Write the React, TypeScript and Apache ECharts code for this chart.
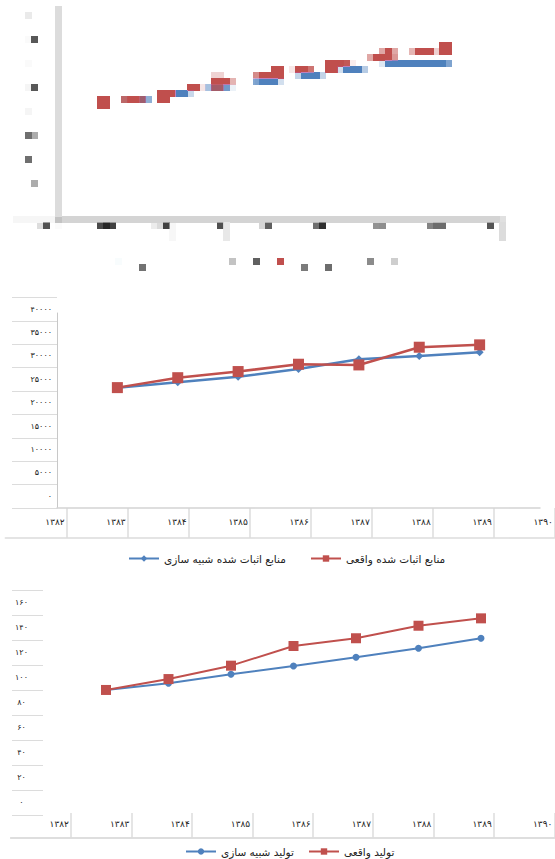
import React, { useEffect, useRef } from "react";
import * as echarts from "echarts";

// Persian calendar years on the horizontal axis
const years = ["۱۳۸۲", "۱۳۸۳", "۱۳۸۴", "۱۳۸۵", "۱۳۸۶", "۱۳۸۷", "۱۳۸۸", "۱۳۸۹", "۱۳۹۰"];

// Proven reserves, simulated vs. actual
const reserveTicks = ["۰", "۵۰۰۰", "۱۰۰۰۰", "۱۵۰۰۰", "۲۰۰۰۰", "۲۵۰۰۰", "۳۰۰۰۰", "۳۵۰۰۰", "۴۰۰۰۰"];
const reserveSimulated = [null, 23100, 24300, 25450, 27100, 29150, 29850, 30650, null];
const reserveActual = [null, 23150, 25250, 26550, 28100, 27950, 31700, 32200, null];

// Production, simulated vs. actual
const productionTicks = ["۰", "۲۰", "۴۰", "۶۰", "۸۰", "۱۰۰", "۱۲۰", "۱۴۰", "۱۶۰"];
const productionSimulated = [null, 89.5, 94.8, 102, 108.6, 115.6, 122.8, 130.8, null];
const productionActual = [null, 89.5, 98.2, 108.9, 124.6, 130.8, 140.8, 146.7, null];

// Overview panel (low resolution thumbnail)
const overviewSimulated = [null, 22100, 23600, 25500, 26950, 28650, 30300, 30750, null];
const overviewActual = [null, 22100, 23800, 26700, 28200, 30300, 32000, 33700, null];

const reserveSimName = "منابع اثبات شده شبیه سازی";
const reserveActName = "منابع اثبات شده واقعی";
const prodSimName = "تولید شبیه سازی";
const prodActName = "تولید واقعی";

const BLUE = "#4F81BD";
const RED = "#C0504D";
const RULE = "#dcdcdc";
const TEXT = "#222222";
const FONT = "DejaVu Sans";

type Box = { left: number; top: number; width: number; height: number };
type LineDef = { color: string; width: number };
type PanelSpec = {
  ticks: string[];
  max: number;
  simulated: (number | null)[];
  actual: (number | null)[];
  simName: string;
  actName: string;
  plot: Box;
  yCol: Box & { side: "left" | "right"; margin: number; align: "left" | "center" | "right"; fontSize: number };
  xRow: Box & { margin: number; fontSize: number; topLine: boolean };
  frame?: Box & { yLine?: LineDef; xLine?: LineDef };
  legendPos: [number, number][];
  legendFont: number;
  lineWidth: number;
  blueSymbol: string;
  blueSize: number;
  redSize: number;
};

type Mapper = { x: (v: number) => number; y: (v: number) => number; l: (v: number) => number };
type Acc = { grid: any[]; xAxis: any[]; yAxis: any[]; series: any[]; legend: any[] };

function buildPanel(spec: PanelSpec, m: Mapper, acc: Acc) {
  const box = (b: Box) => ({ left: m.x(b.left), top: m.y(b.top), width: m.l(b.width), height: m.l(b.height) });

  // data plot
  let gi = acc.grid.length;
  acc.grid.push(box(spec.plot));
  const xi = acc.xAxis.length;
  const yi = acc.yAxis.length;
  acc.xAxis.push({ gridIndex: gi, type: "category", data: years, boundaryGap: false, show: false });
  acc.yAxis.push({ gridIndex: gi, type: "value", min: 0, max: spec.max, show: false });
  acc.series.push(
    {
      type: "line",
      name: spec.simName,
      xAxisIndex: xi,
      yAxisIndex: yi,
      data: spec.simulated,
      symbol: spec.blueSymbol,
      symbolSize: m.l(spec.blueSize),
      lineStyle: { color: BLUE, width: m.l(spec.lineWidth) },
      itemStyle: { color: BLUE },
      silent: true,
      z: 3,
    },
    {
      type: "line",
      name: spec.actName,
      xAxisIndex: xi,
      yAxisIndex: yi,
      data: spec.actual,
      symbol: "rect",
      symbolSize: m.l(spec.redSize),
      lineStyle: { color: RED, width: m.l(spec.lineWidth) },
      itemStyle: { color: RED },
      silent: true,
      z: 4,
    }
  );

  // value label column
  gi = acc.grid.length;
  acc.grid.push(box(spec.yCol));
  acc.xAxis.push({ gridIndex: gi, type: "value", min: 0, max: 1, show: false });
  acc.yAxis.push({
    gridIndex: gi,
    type: "category",
    data: spec.ticks,
    position: spec.yCol.side,
    boundaryGap: true,
    axisLine: { show: false },
    axisTick: { show: false },
    splitLine: { show: true, interval: 0, lineStyle: { color: RULE, width: 1 } },
    axisLabel: {
      inside: true,
      interval: 0,
      margin: m.l(spec.yCol.margin),
      align: spec.yCol.align,
      fontSize: m.l(spec.yCol.fontSize),
      color: TEXT,
      fontFamily: FONT,
    },
  });

  // year label row
  gi = acc.grid.length;
  acc.grid.push(box(spec.xRow));
  const cellW = m.l(spec.xRow.width) / years.length;
  acc.xAxis.push({
    gridIndex: gi,
    type: "category",
    data: years,
    position: "top",
    boundaryGap: true,
    axisLine: { show: spec.xRow.topLine, lineStyle: { color: RULE, width: 1.5 } },
    axisTick: { show: false },
    splitLine: {
      show: true,
      interval: (i: number) => i > 0,
      lineStyle: { color: RULE, width: 1.5 },
    },
    axisLabel: {
      inside: true,
      interval: 0,
      margin: m.l(spec.xRow.margin),
      formatter: (v: string) => `{c|${v}}`,
      rich: {
        c: {
          width: cellW - m.l(5),
          align: "right",
          fontSize: m.l(spec.xRow.fontSize),
          color: TEXT,
          fontFamily: FONT,
        },
      },
    },
  });
  acc.xAxis.push({
    gridIndex: gi,
    type: "category",
    data: years,
    position: "bottom",
    axisLine: { show: true, lineStyle: { color: RULE, width: 1.5 } },
    axisTick: { show: false },
    axisLabel: { show: false },
    splitLine: { show: false },
  });
  acc.yAxis.push({ gridIndex: gi, type: "value", min: 0, max: 1, show: false });

  // plot frame lines
  if (spec.frame) {
    const f = spec.frame;
    gi = acc.grid.length;
    acc.grid.push(box(f));
    acc.xAxis.push({
      gridIndex: gi,
      type: "value",
      min: 0,
      max: 1,
      axisLine: { show: !!f.xLine, lineStyle: { color: f.xLine?.color || RULE, width: m.l(f.xLine?.width || 1) } },
      axisTick: { show: false },
      axisLabel: { show: false },
      splitLine: { show: false },
    });
    acc.yAxis.push({
      gridIndex: gi,
      type: "value",
      min: 0,
      max: 1,
      axisLine: {
        show: !!f.yLine,
        onZero: false,
        lineStyle: { color: f.yLine?.color || RULE, width: m.l(f.yLine?.width || 1) },
      },
      axisTick: { show: false },
      axisLabel: { show: false },
      splitLine: { show: false },
    });
  }

  // legends, one per series
  [spec.simName, spec.actName].forEach((name, i) => {
    acc.legend.push({
      data: [name],
      left: m.x(spec.legendPos[i][0]),
      top: m.y(spec.legendPos[i][1]),
      padding: 0,
      itemWidth: m.l(30),
      itemHeight: m.l(8),
      selectedMode: false,
      textStyle: { fontSize: m.l(spec.legendFont), color: TEXT, fontFamily: FONT },
    });
  });
}

const reservePanel: PanelSpec = {
  ticks: reserveTicks,
  max: 40000,
  simulated: reserveSimulated,
  actual: reserveActual,
  simName: reserveSimName,
  actName: reserveActName,
  plot: { left: 57, top: 308, width: 483, height: 189 },
  yCol: { left: 12, top: 297.4, width: 45, height: 210.6, side: "right", margin: 5, align: "right", fontSize: 8 },
  xRow: { left: 5.3, top: 508, width: 564.3, height: 30, margin: 9, fontSize: 9, topLine: false },
  frame: {
    left: 57,
    top: 313,
    width: 483,
    height: 195,
    yLine: { color: "#c8c8c8", width: 1 },
    xLine: { color: "#d4d4d4", width: 1.5 },
  },
  legendPos: [
    [128, 553],
    [310, 553],
  ],
  legendFont: 10.5,
  lineWidth: 2.5,
  blueSymbol: "diamond",
  blueSize: 8,
  redSize: 11,
};

const productionPanel: PanelSpec = {
  ticks: productionTicks,
  max: 160,
  simulated: productionSimulated,
  actual: productionActual,
  simName: prodSimName,
  actName: prodActName,
  plot: { left: 43.5, top: 601.7, width: 500, height: 200.3 },
  yCol: { left: 12, top: 590, width: 31, height: 225, side: "left", margin: 9.5, align: "center", fontSize: 8 },
  xRow: { left: 10.7, top: 813, width: 549.3, height: 25, margin: 6, fontSize: 9, topLine: true },
  legendPos: [
    [185, 846],
    [308, 846],
  ],
  legendFont: 10.5,
  lineWidth: 2,
  blueSymbol: "circle",
  blueSize: 7,
  redSize: 10,
};

const overviewPanel: PanelSpec = {
  ticks: reserveTicks,
  max: 40000,
  simulated: overviewSimulated,
  actual: overviewActual,
  simName: reserveSimName,
  actName: reserveActName,
  plot: { left: 48, top: 18, width: 454, height: 190 },
  yCol: { left: 12, top: 6, width: 44, height: 214, side: "right", margin: 5, align: "right", fontSize: 9 },
  xRow: { left: 5.9, top: 221, width: 496, height: 18, margin: 1, fontSize: 9, topLine: false },
  frame: {
    left: 57,
    top: 6,
    width: 445,
    height: 214,
    yLine: { color: "#dcdcdc", width: 5 },
    xLine: { color: "#aaaaaa", width: 2.5 },
  },
  legendPos: [
    [104, 258],
    [266, 258],
  ],
  legendFont: 11,
  lineWidth: 3,
  blueSymbol: "diamond",
  blueSize: 9,
  redSize: 12,
};

// the overview thumbnail is drawn smaller, mosaicked in 7px cells, then scaled up
const MOSAIC_SCALE = 7.5 / 7;
const TOP_SHIFT = -1.5;
const TOP_W = 555;
const TOP_H = 282;

function makeOption(panels: [PanelSpec, Mapper][]) {
  const acc: Acc = { grid: [], xAxis: [], yAxis: [], series: [], legend: [] };
  panels.forEach(([p, m]) => buildPanel(p, m, acc));
  return {
    animation: false,
    textStyle: { fontFamily: FONT },
    ...acc,
  };
}

export default function App() {
  const mainRef = useRef<HTMLDivElement>(null);
  const topRef = useRef<HTMLDivElement>(null);

  useEffect(() => {
    const main = echarts.init(mainRef.current!, undefined, { renderer: "svg" });
    const top = echarts.init(topRef.current!, undefined, { renderer: "svg" });
    const identity: Mapper = { x: (v) => v, y: (v) => v, l: (v) => v };
    const shrink: Mapper = {
      x: (v) => v / MOSAIC_SCALE,
      y: (v) => (v - TOP_SHIFT) / MOSAIC_SCALE,
      l: (v) => v / MOSAIC_SCALE,
    };
    main.setOption(
      makeOption([
        [reservePanel, identity],
        [productionPanel, identity],
      ])
    );
    top.setOption(makeOption([[overviewPanel, shrink]]));
    return () => {
      main.dispose();
      top.dispose();
    };
  }, []);

  return (
    <div style={{ position: "absolute", left: 0, top: 0, width: 555, height: 859, background: "#fff", overflow: "hidden" }}>
      <svg width="0" height="0" style={{ position: "absolute" }}>
        <defs>
          <filter id="mosaic" x="0" y="0" width="100%" height="100%">
            <feFlood x="3" y="3" width="1" height="1" floodColor="#000" />
            <feComposite width="7" height="7" />
            <feTile result="cells" />
            <feComposite in="SourceGraphic" in2="cells" operator="in" />
            <feMorphology operator="dilate" radius="3" />
          </filter>
        </defs>
      </svg>
      <div style={{ position: "absolute", left: 0, top: TOP_SHIFT, width: TOP_W, height: TOP_H, overflow: "hidden" }}>
        <div
          style={{
            width: TOP_W / MOSAIC_SCALE,
            height: TOP_H / MOSAIC_SCALE,
            transform: `scale(${MOSAIC_SCALE})`,
            transformOrigin: "0 0",
            filter: "url(#mosaic)",
          }}
        >
          <div ref={topRef} style={{ width: "100%", height: "100%" }} />
        </div>
      </div>
      <div ref={mainRef} style={{ position: "absolute", left: 0, top: 0, width: 555, height: 859 }} />
    </div>
  );
}
